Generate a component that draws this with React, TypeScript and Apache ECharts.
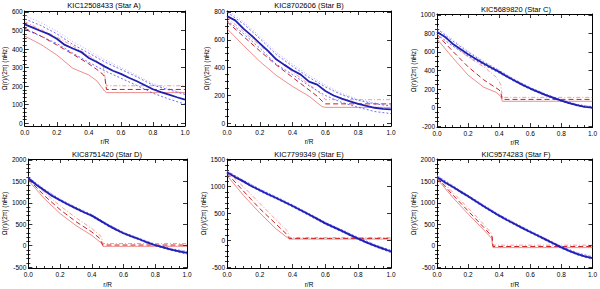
import React, { useEffect, useRef } from 'react';
import * as echarts from 'echarts';

// ---------- titles ----------
const titles = [
  'KIC12508433 (Star A)',
  'KIC8702606 (Star B)',
  'KIC5689820 (Star C)',
  'KIC8751420 (Star D)',
  'KIC7799349 (Star E)',
  'KIC9574283 (Star F)',
];

// ---------- x tick labels ----------
const xTicks = [0, 0.2, 0.4, 0.6, 0.8, 1.0];

// ---------- y tick labels per panel ----------
const yTicksA = [0, 100, 200, 300, 400, 500, 600];
const yTicksB = [0, 200, 400, 600, 800];
const yTicksC = [-200, 0, 200, 400, 600, 800, 1000];
const yTicksD = [-500, 0, 500, 1000, 1500, 2000];
const yTicksE = [-500, 0, 500, 1000, 1500];
const yTicksF = [-500, 0, 500, 1000, 1500, 2000];

// ---------- Star A ----------
const blueMidA = [[0, 533], [0.05, 515], [0.1, 497], [0.15, 480], [0.2, 455], [0.25, 422], [0.3, 403], [0.35, 385], [0.4, 352], [0.45, 330], [0.5, 305], [0.55, 283], [0.6, 266], [0.65, 245], [0.7, 226], [0.75, 205], [0.8, 183], [0.85, 168], [0.9, 154], [0.95, 140], [1.0, 127]];
const blueHiA = [[0, 562], [0.1, 527], [0.2, 482], [0.3, 425], [0.4, 378], [0.5, 330], [0.6, 290], [0.7, 250], [0.8, 205], [0.9, 180], [1.0, 155]];
const blueLoA = [[0, 505], [0.1, 470], [0.2, 430], [0.3, 378], [0.4, 328], [0.5, 282], [0.6, 243], [0.7, 203], [0.8, 162], [0.9, 130], [1.0, 103]];
const purpleHiA = [[0, 580], [0.1, 543], [0.2, 497], [0.3, 440], [0.4, 392], [0.5, 342], [0.6, 300], [0.7, 258], [0.8, 212], [0.9, 186], [1.0, 160]];
const redMidA = [[0, 512], [0.1, 470], [0.2, 422], [0.3, 372], [0.4, 320], [0.45, 290], [0.49, 262], [0.5, 245], [0.51, 182], [1.0, 182]];
const redHiA = [[0, 548], [0.1, 505], [0.2, 465], [0.3, 415], [0.4, 365], [0.45, 335], [0.49, 305], [0.51, 202], [1.0, 202]];
const redLoA = [[0, 470], [0.1, 425], [0.2, 368], [0.3, 296], [0.4, 260], [0.45, 228], [0.5, 172], [0.51, 165], [1.0, 165]];

// ---------- Star B ----------
const blueMidB = [[0, 770], [0.05, 740], [0.1, 680], [0.15, 630], [0.2, 575], [0.25, 520], [0.3, 460], [0.35, 420], [0.4, 382], [0.45, 350], [0.5, 300], [0.55, 278], [0.6, 232], [0.65, 200], [0.7, 178], [0.75, 158], [0.8, 140], [0.85, 125], [0.9, 112], [0.95, 104], [1.0, 100]];
const blueHiB = [[0, 800], [0.1, 715], [0.2, 610], [0.3, 495], [0.4, 410], [0.5, 330], [0.6, 262], [0.7, 205], [0.8, 165], [0.9, 140], [1.0, 125]];
const blueLoB = [[0, 740], [0.1, 645], [0.2, 540], [0.3, 425], [0.4, 350], [0.5, 270], [0.6, 200], [0.7, 150], [0.8, 115], [0.9, 85], [1.0, 70]];
const purpleHiB = [[0, 815], [0.1, 730], [0.2, 625], [0.3, 510], [0.4, 425], [0.5, 345], [0.6, 275], [0.7, 215], [0.8, 172], [0.9, 148], [1.0, 135]];
const redMidB = [[0, 730], [0.1, 625], [0.2, 520], [0.3, 420], [0.4, 330], [0.5, 240], [0.55, 195], [0.58, 160], [0.6, 140], [1.0, 140]];
const redHiB = [[0, 760], [0.1, 660], [0.2, 560], [0.3, 460], [0.4, 370], [0.5, 280], [0.57, 215], [0.6, 170], [1.0, 170]];
const redLoB = [[0, 680], [0.1, 560], [0.2, 445], [0.3, 345], [0.4, 265], [0.5, 195], [0.58, 120], [0.6, 115], [1.0, 115]];

// ---------- Star C ----------
const blueMidC = [[0, 815], [0.05, 765], [0.1, 690], [0.15, 632], [0.2, 575], [0.25, 525], [0.3, 475], [0.35, 430], [0.4, 385], [0.45, 335], [0.5, 290], [0.55, 245], [0.6, 205], [0.65, 170], [0.7, 135], [0.75, 105], [0.8, 75], [0.85, 48], [0.9, 25], [0.95, 8], [1.0, 0]];
const blueHiC = [[0, 850], [0.1, 720], [0.2, 598], [0.3, 492], [0.4, 398], [0.5, 300], [0.6, 214], [0.7, 143], [0.8, 82], [0.9, 32], [1.0, 8]];
const blueLoC = [[0, 790], [0.1, 665], [0.2, 555], [0.3, 460], [0.4, 372], [0.5, 280], [0.6, 196], [0.7, 127], [0.8, 68], [0.9, 18], [1.0, -8]];
const purpleHiC = [[0, 865], [0.05, 800], [0.1, 735], [0.2, 610], [0.3, 500], [0.4, 405], [0.5, 305], [0.6, 218], [0.7, 147], [0.8, 85], [0.9, 35], [1.0, 10]];
const redMidC = [[0, 790], [0.1, 610], [0.2, 440], [0.3, 300], [0.4, 190], [0.41, 160], [0.42, 88], [1.0, 88]];
const redHiC = [[0, 830], [0.1, 680], [0.2, 545], [0.3, 440], [0.38, 330], [0.41, 250], [0.42, 110], [1.0, 110]];
const redLoC = [[0, 740], [0.1, 540], [0.2, 350], [0.3, 220], [0.38, 165], [0.41, 120], [0.42, 68], [1.0, 68]];

// ---------- Star D ----------
const blueMidD = [[0, 1570], [0.05, 1420], [0.1, 1290], [0.15, 1160], [0.2, 1060], [0.25, 960], [0.3, 870], [0.35, 780], [0.4, 700], [0.45, 590], [0.5, 480], [0.55, 380], [0.6, 290], [0.65, 215], [0.7, 150], [0.75, 75], [0.8, 10], [0.85, -40], [0.9, -90], [0.95, -130], [1.0, -170]];
const blueHiD = [[0, 1595], [0.1, 1310], [0.2, 1080], [0.3, 890], [0.4, 720], [0.5, 500], [0.6, 308], [0.7, 168], [0.8, 28], [0.9, -72], [1.0, -140]];
const blueLoD = [[0, 1545], [0.1, 1270], [0.2, 1040], [0.3, 850], [0.4, 680], [0.5, 460], [0.6, 272], [0.7, 132], [0.8, -8], [0.9, -108], [1.0, -200]];
const purpleHiD = [[0, 1610], [0.1, 1320], [0.2, 1090], [0.3, 898], [0.4, 728], [0.5, 508], [0.6, 315], [0.7, 175], [0.8, 35], [0.9, -65], [1.0, -130]];
const redMidD = [[0, 1550], [0.1, 1170], [0.2, 840], [0.3, 560], [0.4, 320], [0.45, 170], [0.46, 90], [0.47, 15], [1.0, 15]];
const redHiD = [[0, 1580], [0.1, 1240], [0.2, 930], [0.3, 650], [0.4, 400], [0.46, 210], [0.47, 50], [1.0, 50]];
const redLoD = [[0, 1520], [0.1, 1100], [0.2, 750], [0.3, 470], [0.4, 240], [0.46, 60], [0.47, -15], [1.0, -15]];

// ---------- Star E ----------
const blueMidE = [[0, 1270], [0.05, 1180], [0.1, 1100], [0.15, 1010], [0.2, 935], [0.25, 860], [0.3, 790], [0.35, 715], [0.4, 640], [0.45, 560], [0.5, 480], [0.55, 400], [0.6, 315], [0.65, 245], [0.7, 175], [0.75, 100], [0.8, 30], [0.85, -40], [0.9, -100], [0.95, -155], [1.0, -210]];
const blueHiE = [[0, 1290], [0.1, 1118], [0.2, 953], [0.3, 808], [0.4, 658], [0.5, 498], [0.6, 333], [0.7, 193], [0.8, 48], [0.9, -82], [1.0, -190]];
const blueLoE = [[0, 1250], [0.1, 1082], [0.2, 917], [0.3, 772], [0.4, 622], [0.5, 462], [0.6, 297], [0.7, 157], [0.8, 12], [0.9, -118], [1.0, -230]];
const purpleHiE = [[0, 1300], [0.1, 1125], [0.2, 960], [0.3, 815], [0.4, 665], [0.5, 505], [0.6, 340], [0.7, 200], [0.8, 55], [0.9, -75], [1.0, -182]];
const redMidE = [[0, 1250], [0.1, 920], [0.2, 590], [0.3, 300], [0.36, 125], [0.38, 35], [1.0, 35]];
const redHiE = [[0, 1290], [0.1, 1000], [0.2, 690], [0.3, 380], [0.37, 170], [0.38, 50], [1.0, 50]];
const redLoE = [[0, 1210], [0.1, 840], [0.2, 510], [0.3, 210], [0.37, 45], [0.38, 22], [1.0, 22]];

// ---------- Star F ----------
const blueMidF = [[0, 1600], [0.05, 1480], [0.1, 1375], [0.15, 1260], [0.2, 1150], [0.25, 1035], [0.3, 920], [0.35, 810], [0.4, 700], [0.45, 600], [0.5, 505], [0.55, 410], [0.6, 320], [0.65, 230], [0.7, 140], [0.75, 50], [0.8, -40], [0.85, -120], [0.9, -190], [0.95, -250], [1.0, -290]];
const blueHiF = [[0, 1625], [0.1, 1397], [0.2, 1172], [0.3, 942], [0.4, 722], [0.5, 527], [0.6, 342], [0.7, 162], [0.8, -18], [0.9, -168], [1.0, -262]];
const blueLoF = [[0, 1575], [0.1, 1353], [0.2, 1128], [0.3, 898], [0.4, 678], [0.5, 483], [0.6, 298], [0.7, 118], [0.8, -62], [0.9, -212], [1.0, -318]];
const purpleHiF = [[0, 1640], [0.1, 1410], [0.2, 1182], [0.3, 952], [0.4, 730], [0.5, 535], [0.6, 350], [0.7, 170], [0.8, -10], [0.9, -160], [1.0, -252]];
const redMidF = [[0, 1590], [0.1, 1190], [0.2, 810], [0.3, 430], [0.34, 270], [0.355, 205], [0.36, -18], [1.0, -18]];
const redHiF = [[0, 1620], [0.1, 1250], [0.2, 880], [0.3, 500], [0.35, 290], [0.36, 12], [1.0, 12]];
const redLoF = [[0, 1560], [0.1, 1130], [0.2, 740], [0.3, 370], [0.35, 175], [0.36, -45], [1.0, -45]];

const panels = [
  { title: titles[0], left: 23, top: 11, width: 162, height: 115, yMin: -15, yMax: 605, yTicks: yTicksA, minorStep: 20, titleY: 5, yNameGap: 12, xNameGap: 6,
    blueMid: blueMidA, blueHi: blueHiA, blueLo: blueLoA, purpleHi: purpleHiA, redMid: redMidA, redHi: redHiA, redLo: redLoA },
  { title: titles[1], left: 227, top: 11, width: 164, height: 115, yMin: -19, yMax: 807, yTicks: yTicksB, minorStep: 50, titleY: 5, yNameGap: 12, xNameGap: 6,
    blueMid: blueMidB, blueHi: blueHiB, blueLo: blueLoB, purpleHi: purpleHiB, redMid: redMidB, redHi: redHiB, redLo: redLoB },
  { title: titles[2], left: 437, top: 14, width: 158, height: 113, yMin: -210, yMax: 1010, yTicks: yTicksC, minorStep: 50, titleY: 9, yNameGap: 14, xNameGap: 6,
    blueMid: blueMidC, blueHi: blueHiC, blueLo: blueLoC, purpleHi: purpleHiC, redMid: redMidC, redHi: redHiC, redLo: redLoC },
  { title: titles[3], left: 27, top: 159, width: 160, height: 113, yMin: -520, yMax: 2020, yTicks: yTicksD, minorStep: 100, titleY: 154, yNameGap: 15, xNameGap: 7,
    blueMid: blueMidD, blueHi: blueHiD, blueLo: blueLoD, purpleHi: purpleHiD, redMid: redMidD, redHi: redHiD, redLo: redLoD },
  { title: titles[4], left: 227, top: 159, width: 164, height: 112, yMin: -518, yMax: 1518, yTicks: yTicksE, minorStep: 100, titleY: 154, yNameGap: 15, xNameGap: 7,
    blueMid: blueMidE, blueHi: blueHiE, blueLo: blueLoE, purpleHi: purpleHiE, redMid: redMidE, redHi: redHiE, redLo: redLoE },
  { title: titles[5], left: 437, top: 159, width: 158, height: 112, yMin: -520, yMax: 2020, yTicks: yTicksF, minorStep: 100, titleY: 154, yNameGap: 15, xNameGap: 7,
    blueMid: blueMidF, blueHi: blueHiF, blueLo: blueLoF, purpleHi: purpleHiF, redMid: redMidF, redHi: redHiF, redLo: redLoF },
];

const FONT = 'Liberation Sans';
const BLACK = '#000';

function buildOption() {
  const grid: any[] = [];
  const xAxis: any[] = [];
  const yAxis: any[] = [];
  const series: any[] = [];
  const graphic: any[] = [];

  panels.forEach((p, i) => {
    grid.push({ left: p.left, top: p.top, width: p.width, height: p.height, containLabel: false });
    const lineStyle = { color: BLACK, width: 1 };
    const baseX = {
      gridIndex: i, type: 'value', min: 0, max: 1, interval: 0.2,
      axisLine: { show: true, onZero: false, lineStyle },
      axisTick: { show: true, inside: true, length: 4, lineStyle: { color: BLACK, width: 0.8 } },
      minorTick: { show: true, splitNumber: 4, length: 2, lineStyle: { color: BLACK, width: 0.8 } },
      splitLine: { show: false },
    };
    xAxis.push({
      ...baseX, position: 'bottom',
      axisLabel: { show: true, fontSize: 6.5, fontFamily: FONT, color: BLACK, margin: 3, formatter: (v: number) => v.toFixed(1), customValues: xTicks },
      name: 'r/R', nameLocation: 'middle', nameGap: p.xNameGap + 6,
      nameTextStyle: { fontSize: 6.5, fontFamily: FONT, color: BLACK },
    });
    xAxis.push({ ...baseX, position: 'top', axisLabel: { show: false } });

    const minors: number[] = [];
    const start = Math.ceil(p.yMin / p.minorStep) * p.minorStep;
    for (let v = start; v <= p.yMax; v += p.minorStep) {
      if (!p.yTicks.includes(v)) minors.push(v);
    }
    const baseY = {
      gridIndex: i, type: 'value', min: p.yMin, max: p.yMax,
      splitLine: { show: false },
    };
    yAxis.push({
      ...baseY, position: 'left',
      axisLine: { show: true, onZero: false, lineStyle },
      axisTick: { show: true, inside: true, length: 4, customValues: p.yTicks, lineStyle: { color: BLACK, width: 0.8 } },
      axisLabel: { show: true, customValues: p.yTicks, fontSize: 6.5, fontFamily: FONT, color: BLACK, margin: 2, formatter: (v: number) => String(Math.round(v)) },
      name: 'Ω(r)/(2π) (nHz)', nameLocation: 'middle', nameRotate: 90, nameGap: p.yNameGap + 4,
      nameTextStyle: { fontSize: 6.5, fontFamily: FONT, color: BLACK },
    });
    yAxis.push({
      ...baseY, position: 'right',
      axisLine: { show: true, onZero: false, lineStyle },
      axisTick: { show: true, inside: true, length: 4, customValues: p.yTicks, lineStyle: { color: BLACK, width: 0.8 } },
      axisLabel: { show: false },
    });
    yAxis.push({
      ...baseY, position: 'left',
      axisLine: { show: false },
      axisTick: { show: true, inside: true, length: 2, customValues: minors, lineStyle: { color: BLACK, width: 0.8 } },
      axisLabel: { show: false },
    });
    yAxis.push({
      ...baseY, position: 'right',
      axisLine: { show: false },
      axisTick: { show: true, inside: true, length: 2, customValues: minors, lineStyle: { color: BLACK, width: 0.8 } },
      axisLabel: { show: false },
    });

    const xi = i * 2;
    const yi = i * 4;
    const mk = (data: number[][], color: string, width: number, type: any, z: number) => ({
      type: 'line', xAxisIndex: xi, yAxisIndex: yi, data, showSymbol: false, symbol: 'none',
      lineStyle: { color, width, type }, z, silent: true,
    });
    series.push(mk(p.redLo, '#e85a5a', 0.7, 'solid', 2));
    series.push(mk(p.redHi, '#f07070', 0.7, [4, 2, 1, 2], 2));
    series.push(mk(p.redMid, '#cc2020', 1, [5, 3], 3));
    series.push(mk(p.purpleHi, '#a488ff', 0.7, [1, 2], 4));
    series.push(mk(p.blueHi, '#4a4aff', 0.8, [2, 2], 4));
    series.push(mk(p.blueLo, '#4a4aff', 0.8, [2, 2], 4));
    series.push(mk(p.blueMid, '#1f1fb0', 1.8, 'solid', 5));

    graphic.push({
      type: 'text', x: p.left + p.width / 2, y: p.titleY,
      style: { text: p.title, align: 'center', verticalAlign: 'middle', fontSize: 7.5, fontFamily: FONT, fill: BLACK },
    });
  });

  return { animation: false, backgroundColor: '#fff', grid, xAxis, yAxis, series, graphic };
}

export default function App() {
  const ref = useRef<HTMLDivElement>(null);
  useEffect(() => {
    document.body.style.margin = '0';
    const chart = echarts.init(ref.current!, null, { renderer: 'svg' });
    chart.setOption(buildOption() as any);
    return () => chart.dispose();
  }, []);
  return <div ref={ref} style={{ width: 600, height: 289 }} />;
}
